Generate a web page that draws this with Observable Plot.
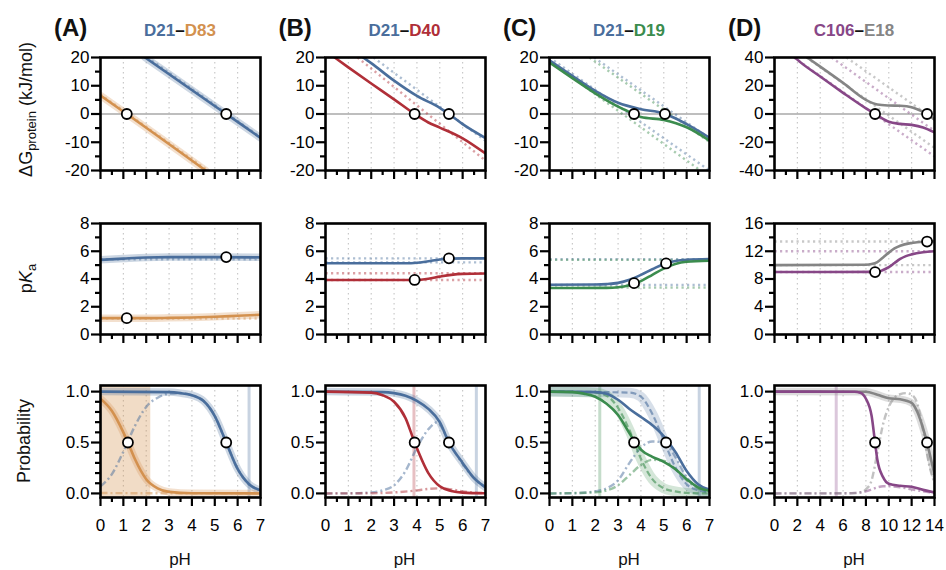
<!DOCTYPE html>
<html><head><meta charset="utf-8">
<script src="https://cdn.jsdelivr.net/npm/d3@7"></script>
<script src="https://cdn.jsdelivr.net/npm/@observablehq/plot@0.6"></script>
<style>
body{margin:0;background:#fff;}
#fig{position:relative;width:946px;height:570px;font-family:"Liberation Sans",Arial,Helvetica,sans-serif;overflow:hidden;background:#fff;}
#fig .panel{position:absolute;}
#overlay{position:absolute;left:0;top:0;z-index:5;pointer-events:none;}
</style></head><body><div id="fig"></div>
<script>
// ---------------- colours ----------------
const colD21 = "#4a6e9c", colD83 = "#d3914f", colD40 = "#b02f38", colD19 = "#3b8c4e", colC106 = "#874787", colE18 = "#858585";

// ---------------- titles ----------------
const panelLetters = ["(A)", "(B)", "(C)", "(D)"];
const pairLeft = ["D21", "D21", "D21", "C106"];
const pairRight = ["D83", "D40", "D19", "E18"];
const pairLeftColor = [colD21, colD21, colD21, colC106];
const pairRightColor = [colD83, colD40, colD19, colE18];

// ---------------- ticks ----------------
const xMajor7 = [0,1,2,3,4,5,6,7];
const xMinor7 = [0.5,1.5,2.5,3.5,4.5,5.5,6.5];
const xMajor14 = [0,2,4,6,8,10,12,14];
const xMinor14 = [1,3,5,7,9,11,13];
const dGTicks20 = [-20,-10,0,10,20], dGMinor20 = [-15,-5,5,15];
const dGTicks40 = [-40,-20,0,20,40], dGMinor40 = [-30,-10,10,30];
const pKaTicks8 = [0,2,4,6,8], pKaMinor8 = [1,3,5,7];
const pKaTicks16 = [0,4,8,12,16], pKaMinor16 = [2,6,10,14];
const probTicks = [0,0.5,1], probMinor = [0.1,0.2,0.3,0.4,0.6,0.7,0.8,0.9];

// ---------------- panel A : D21-D83 ----------------
const A_dG_D21 = [[1.95,20],[5.5,0],[7,-8.45]];
const A_dG_D83 = [[0,6.5],[1.15,0],[4.6,-20]];
const A_dG_D21_ref = [[2.05,20],[7,-8.2]];
const A_dG_D83_ref = [[0,6.9],[4.7,-20]];
const A_dG_pts = [[1.15,0],[5.5,0]];
const A_pKa_D21 = [[0,5.38],[1,5.47],[2,5.55],[3,5.58],[5,5.58],[7,5.56]];
const A_pKa_D83 = [[0,1.18],[2,1.18],[3,1.2],[4,1.23],[5,1.28],[6,1.35],[7,1.42]];
const A_pKa_D21_ref = [[0,5.42],[7,5.42]];
const A_pKa_D83_ref = [[0,1.15],[7,1.15]];
const A_pKa_pts = [[1.15,1.18],[5.5,5.58]];
const A_prob_D21 = [[0,1],[3,0.995],[3.5,0.985],[4,0.965],[4.5,0.91],[5,0.76],[5.5,0.5],[6,0.24],[6.5,0.09],[7,0.03]];
const A_prob_D83 = [[0,0.93],[0.5,0.81],[1,0.6],[1.2,0.5],[1.5,0.34],[2,0.14],[2.5,0.05],[3,0.015],[4,0.002],[7,0]];
const A_prob_mixed = [[0,0.07],[0.5,0.19],[1,0.41],[1.5,0.66],[2,0.85],[2.5,0.94],[3,0.98],[3.5,0.985],[4,0.965],[4.5,0.91],[5,0.76],[5.5,0.5],[6,0.24],[6.5,0.09],[7,0.03]];
const A_prob_both = [[0,0.004],[3,0.001],[7,0]];
const A_prob_pts = [[1.2,0.5],[5.5,0.5]];
const A_shade = [[0,2.2]];
const A_rule_D21 = [6.5];

// ---------------- panel B : D21-D40 ----------------
const B_dG_D21 = [[1.6,20.3],[2,18],[3,11.8],[4,6.4],[5,2.2],[5.4,0],[6,-3.6],[7,-8.5]];
const B_dG_D40 = [[0.4,20],[1,16.5],[2,10.8],[3,5.2],[3.9,0],[4.5,-3],[5,-4.8],[6,-8.6],[7,-14]];
const B_dG_D21_ref = [[2.1,20],[7,-9.5]];
const B_dG_D40_ref = [[1.4,20],[7,-16.5]];
const B_dG_pts = [[3.9,0],[5.4,0]];
const B_pKa_D21 = [[0,5.13],[3.5,5.13],[4,5.17],[4.5,5.28],[5,5.4],[5.5,5.47],[6,5.49],[7,5.49]];
const B_pKa_D40 = [[0,3.93],[4,3.93],[4.5,4.02],[5,4.17],[5.5,4.3],[6,4.37],[7,4.4]];
const B_pKa_D21_ref1 = [[0,5.49],[7,5.49]], B_pKa_D21_ref2 = [[0,5.2],[7,5.2]];
const B_pKa_D40_ref1 = [[0,4.41],[7,4.41]], B_pKa_D40_ref2 = [[0,3.93],[7,3.93]];
const B_pKa_pts = [[3.9,3.93],[5.4,5.49]];
const B_prob_D21 = [[0,1],[2.5,0.995],[3,0.985],[3.5,0.96],[4,0.91],[4.5,0.83],[5,0.7],[5.4,0.5],[6,0.3],[6.5,0.15],[7,0.06]];
const B_prob_D40 = [[0,1],[2,0.99],[2.5,0.965],[3,0.9],[3.5,0.74],[3.9,0.5],[4.5,0.2],[5,0.07],[5.5,0.025],[6,0.008],[7,0.001]];
const B_prob_mixed = [[0,0],[1,0.001],[2,0.01],[2.5,0.03],[3,0.08],[3.5,0.22],[4,0.45],[4.5,0.63],[4.9,0.7],[5.2,0.6],[5.5,0.47],[6,0.29],[6.5,0.15],[7,0.06]];
const B_prob_both = [[0,0],[2,0.002],[3,0.01],[4,0.03],[4.5,0.045],[5,0.05],[5.5,0.04],[6,0.02],[6.5,0.008],[7,0.003]];
const B_prob_pts = [[3.9,0.5],[5.4,0.5]];
const B_rule_D40 = [3.87], B_rule_D21 = [6.6];

// ---------------- panel C : D21-D19 ----------------
const C_dG_D21 = [[0,19],[1,13.5],[2,8.2],[3,4],[4,1.7],[5,0.2],[5.5,-1.5],[6,-3.6],[7,-8.4]];
const C_dG_D19 = [[0,18.2],[1,12.7],[2,7.3],[3,2.6],[3.7,0],[4,-1.1],[5,-2.1],[6,-4.7],[7,-9.4]];
const C_dG_D21_ref1 = [[1.95,20],[7,-8.6]], C_dG_D21_ref2 = [[0,20],[7,-20]];
const C_dG_D19_ref1 = [[1.75,20],[7,-9.9]], C_dG_D19_ref2 = [[0,18.8],[6.6,-20]];
const C_dG_pts = [[3.7,0],[5.05,0]];
const C_pKa_D21 = [[0,3.59],[2,3.6],[2.5,3.63],[3,3.72],[3.5,3.95],[4,4.3],[4.5,4.7],[5,5.08],[5.5,5.3],[6,5.39],[7,5.44]];
const C_pKa_D19 = [[0,3.35],[2.5,3.36],[3,3.4],[3.5,3.55],[4,3.85],[4.5,4.3],[5,4.75],[5.5,5.08],[6,5.24],[7,5.32]];
const C_pKa_D21_ref1 = [[0,5.42],[7,5.42]], C_pKa_D21_ref2 = [[0,3.57],[7,3.57]];
const C_pKa_D19_ref1 = [[0,5.38],[7,5.38]], C_pKa_D19_ref2 = [[0,3.38],[7,3.38]];
const C_pKa_pts = [[3.7,3.7],[5.1,5.12]];
const C_prob_D21 = [[0,1],[2,0.995],[2.5,0.98],[3,0.92],[3.5,0.83],[4,0.75],[4.5,0.67],[5,0.56],[5.1,0.53],[5.5,0.41],[6,0.22],[6.5,0.09],[7,0.035]];
const C_prob_D19 = [[0,1],[1,0.995],[1.5,0.98],[2,0.95],[2.5,0.88],[3,0.77],[3.5,0.59],[3.7,0.52],[4,0.43],[4.5,0.36],[5,0.31],[5.5,0.24],[6,0.14],[6.5,0.06],[7,0.025]];
const C_prob_D21_state = [[0,1],[3.5,0.99],[4,0.95],[4.5,0.78],[5,0.52],[5.5,0.26],[6,0.09],[6.5,0.03],[7,0.01]];
const C_prob_D19_state = [[0,1],[2,0.99],[2.5,0.96],[3,0.84],[3.5,0.62],[4,0.34],[4.5,0.14],[5,0.05],[5.5,0.02],[6,0.005],[7,0]];
const C_prob_D21_mixed = [[0,0],[1,0.002],[2,0.02],[2.5,0.05],[3,0.13],[3.5,0.3],[4,0.45],[4.5,0.51],[5,0.5],[5.5,0.36],[6,0.16],[6.5,0.06],[7,0.02]];
const C_prob_D19_mixed = [[0,0],[2,0.01],[2.5,0.03],[3,0.08],[3.5,0.18],[4,0.28],[4.5,0.33],[5,0.32],[5.5,0.24],[6,0.13],[6.5,0.05],[7,0.015]];
const C_prob_pts = [[3.7,0.5],[5.1,0.5]];
const C_rule_D19 = [2.2], C_rule_D21 = [6.55];

// ---------------- panel D : C106-E18 ----------------
const D_dG_C106 = [[1.8,40],[2,38.5],[4,26.5],[6,15],[8,4],[8.8,0],[9,-1],[10,-5.5],[11,-7],[12,-7.7],[13,-9.5],[14,-13]];
const D_dG_E18 = [[2.85,40],[4,33.5],[6,22],[8,10],[9,6.7],[10,6],[11,5.8],[12,4.8],[13,1.5],[13.35,0],[14,-4]];
const D_dG_C106_ref1 = [[1.7,40],[14,-30]], D_dG_C106_ref2 = [[5,40],[14,-12]];
const D_dG_E18_ref1 = [[2.8,40],[14,-24]], D_dG_E18_ref2 = [[6.3,40],[14,-4]];
const D_dG_pts = [[8.8,0],[13.35,0]];
const D_pKa_C106 = [[0,9],[9,9.02],[9.5,9.3],[10,9.7],[10.5,10.3],[11,10.9],[11.5,11.3],[12,11.55],[13,11.85],[14,12]];
const D_pKa_E18 = [[0,10],[8,10.05],[8.5,10.15],[9,10.45],[9.5,11.1],[10,11.8],[10.5,12.4],[11,12.8],[12,13.2],[13,13.38],[14,13.42]];
const D_pKa_C106_ref1 = [[0,12],[14,12]], D_pKa_C106_ref2 = [[0,9],[14,9]];
const D_pKa_E18_ref1 = [[0,13.4],[14,13.4]], D_pKa_E18_ref2 = [[0,10],[14,10]];
const D_pKa_pts = [[8.8,9],[13.35,13.4]];
const D_prob_C106 = [[0,1],[7,0.998],[7.5,0.99],[8,0.93],[8.5,0.76],[8.8,0.5],[9,0.33],[9.5,0.16],[10,0.095],[11,0.075],[12,0.065],[13,0.035],[14,0.01]];
const D_prob_E18 = [[0,1],[8,0.998],[9,0.97],[10,0.935],[11,0.925],[12,0.89],[12.5,0.8],[13,0.64],[13.35,0.5],[13.7,0.33],[14,0.19]];
const D_prob_E18_mixed = [[0,0],[7,0.002],[7.5,0.01],[8,0.04],[8.5,0.13],[9,0.4],[9.5,0.68],[10,0.85],[10.5,0.94],[11,0.975],[11.5,0.985],[12,0.97],[12.5,0.88],[13,0.62],[13.5,0.3],[14,0.1]];
const D_prob_C106_mixed = [[0,0],[6,0.001],[7,0.005],[8,0.02],[8.5,0.04],[9,0.06],[9.5,0.07],[10,0.07],[11,0.06],[12,0.04],[13,0.02],[14,0.005]];
const D_prob_pts = [[8.8,0.5],[13.35,0.5]];
const D_rule_C106 = [5.4];

// ---------------- layout ----------------
const frameLeft = [100, 324.5, 549, 774];
const frameW = 160;
const frameTop = [57, 223, 385];
const frameH = [113, 111, 112];
const ML = 50, MR = 8, MT = 8;
const MB = [14, 14, 42];
const FONT = "Liberation Sans, Arial, Helvetica, sans-serif";

const L = (d, c, k, band) => ({d, c, k, band});
const panels = [
  // row 0 : ΔG
  {col:0,row:0,xd:[0,7],yd:[-20,20],layers:[L(A_dG_D21_ref,colD21,"dotted"),L(A_dG_D83_ref,colD83,"dotted"),L(A_dG_D21,colD21,"solid",true),L(A_dG_D83,colD83,"solid",true)],pts:A_dG_pts},
  {col:1,row:0,xd:[0,7],yd:[-20,20],layers:[L(B_dG_D21_ref,colD21,"dotted"),L(B_dG_D40_ref,colD40,"dotted"),L(B_dG_D21,colD21,"solid"),L(B_dG_D40,colD40,"solid")],pts:B_dG_pts},
  {col:2,row:0,xd:[0,7],yd:[-20,20],layers:[L(C_dG_D21_ref1,colD21,"dotted"),L(C_dG_D21_ref2,colD21,"dotted"),L(C_dG_D19_ref1,colD19,"dotted"),L(C_dG_D19_ref2,colD19,"dotted"),L(C_dG_D21,colD21,"solid"),L(C_dG_D19,colD19,"solid")],pts:C_dG_pts},
  {col:3,row:0,xd:[0,14],yd:[-40,40],layers:[L(D_dG_C106_ref1,colC106,"dotted"),L(D_dG_C106_ref2,colC106,"dotted"),L(D_dG_E18_ref1,colE18,"dotted"),L(D_dG_E18_ref2,colE18,"dotted"),L(D_dG_E18,colE18,"solid"),L(D_dG_C106,colC106,"solid")],pts:D_dG_pts},
  // row 1 : pKa
  {col:0,row:1,xd:[0,7],yd:[0,8],layers:[L(A_pKa_D21_ref,colD21,"dotted"),L(A_pKa_D83_ref,colD83,"dotted"),L(A_pKa_D21,colD21,"solid",true),L(A_pKa_D83,colD83,"solid",true)],pts:A_pKa_pts},
  {col:1,row:1,xd:[0,7],yd:[0,8],layers:[L(B_pKa_D21_ref1,colD21,"dotted"),L(B_pKa_D21_ref2,colD21,"dotted"),L(B_pKa_D40_ref1,colD40,"dotted"),L(B_pKa_D40_ref2,colD40,"dotted"),L(B_pKa_D21,colD21,"solid"),L(B_pKa_D40,colD40,"solid")],pts:B_pKa_pts},
  {col:2,row:1,xd:[0,7],yd:[0,8],layers:[L(C_pKa_D21_ref1,colD21,"dotted"),L(C_pKa_D21_ref2,colD21,"dotted"),L(C_pKa_D19_ref1,colD19,"dotted"),L(C_pKa_D19_ref2,colD19,"dotted"),L(C_pKa_D21,colD21,"solid"),L(C_pKa_D19,colD19,"solid")],pts:C_pKa_pts},
  {col:3,row:1,xd:[0,14],yd:[0,16],layers:[L(D_pKa_C106_ref1,colC106,"dotted"),L(D_pKa_C106_ref2,colC106,"dotted"),L(D_pKa_E18_ref1,colE18,"dotted"),L(D_pKa_E18_ref2,colE18,"dotted"),L(D_pKa_E18,colE18,"solid"),L(D_pKa_C106,colC106,"solid")],pts:D_pKa_pts},
  // row 2 : probability
  {col:0,row:2,xd:[0,7],yd:[-0.04,1.06],shade:A_shade,shadeColor:colD83,rules:[[A_rule_D21,colD21]],
   layers:[L(A_prob_both,colD83,"dashdot"),L(A_prob_mixed,colD21,"dashdot"),L(A_prob_D21,colD21,"solid",true),L(A_prob_D83,colD83,"solid",true)],pts:A_prob_pts},
  {col:1,row:2,xd:[0,7],yd:[-0.04,1.06],rules:[[B_rule_D40,colD40],[B_rule_D21,colD21]],
   layers:[L(B_prob_mixed,colD21,"dashdot"),L(B_prob_both,colD40,"dashdot"),L(B_prob_D21,colD21,"solid",true),L(B_prob_D40,colD40,"solid")],pts:B_prob_pts},
  {col:2,row:2,xd:[0,7],yd:[-0.04,1.06],rules:[[C_rule_D19,colD19],[C_rule_D21,colD21]],
   layers:[L(C_prob_D21_mixed,colD21,"dashdot"),L(C_prob_D19_mixed,colD19,"dashdot"),L(C_prob_D21_state,colD21,"dashed",true),L(C_prob_D19_state,colD19,"dashed",true),L(C_prob_D21,colD21,"solid"),L(C_prob_D19,colD19,"solid")],pts:C_prob_pts},
  {col:3,row:2,xd:[0,14],yd:[-0.04,1.06],rules:[[D_rule_C106,colC106]],
   layers:[L(D_prob_C106_mixed,colC106,"dashdot"),L(D_prob_E18_mixed,colE18,"dashdot"),L(D_prob_E18,colE18,"solid",true),L(D_prob_C106,colC106,"solid")],pts:D_prob_pts}
];

const fig = document.getElementById("fig");
const xy = {x: d => d[0], y: d => d[1]};

function build(p) {
  const wide = p.col === 3;
  const xMaj = wide ? xMajor14 : xMajor7, xMin = wide ? xMinor14 : xMinor7;
  let yMaj, yMin, yFmt;
  if (p.row === 0) { yMaj = wide ? dGTicks40 : dGTicks20; yMin = wide ? dGMinor40 : dGMinor20; yFmt = d => String(d); }
  else if (p.row === 1) { yMaj = wide ? pKaTicks16 : pKaTicks8; yMin = wide ? pKaMinor16 : pKaMinor8; yFmt = d => String(d); }
  else { yMaj = probTicks; yMin = probMinor; yFmt = d3.format(".1f"); }
  const marks = [];
  marks.push(Plot.gridX(xMaj.filter(v => v > p.xd[0] && v < p.xd[1]), {stroke: "#b5b5b5", strokeOpacity: 0.8, strokeDasharray: "1.5,3.5", strokeWidth: 1.1}));
  if (p.row === 0) marks.push(Plot.ruleY([0], {stroke: "#a8a8a8", strokeWidth: 1.6}));
  if (p.shade) marks.push(Plot.rect(p.shade, {x1: d => d[0], x2: d => d[1], fill: p.shadeColor, fillOpacity: 0.32}));
  (p.rules || []).forEach(([r, c]) => marks.push(Plot.ruleX(r, {stroke: c, strokeWidth: 3, strokeOpacity: 0.3})));
  const base = {...xy, curve: "monotone-x", clip: true};
  // bands first
  p.layers.filter(l => l.band).forEach(l => marks.push(Plot.line(l.d, {...base, stroke: l.c, strokeWidth: l.k === "dashed" ? 10 : 7.5, strokeOpacity: l.k === "dashed" ? 0.22 : 0.28})));
  const order = ["dotted", "dashdot", "dashed", "solid"];
  order.forEach(k => p.layers.filter(l => l.k === k).forEach(l => {
    if (k === "dotted") marks.push(Plot.line(l.d, {...base, stroke: l.c, strokeWidth: 2.4, strokeDasharray: "2.2,3.3", strokeLinecap: "butt", strokeOpacity: 0.45}));
    else if (k === "dashdot") marks.push(Plot.line(l.d, {...base, stroke: l.c, strokeWidth: 2.4, strokeDasharray: "7,3,2,3", strokeLinecap: "butt", strokeOpacity: 0.5}));
    else if (k === "dashed") marks.push(Plot.line(l.d, {...base, stroke: l.c, strokeWidth: 2.2, strokeDasharray: "6,3", strokeLinecap: "butt", strokeOpacity: 0.6}));
    else marks.push(Plot.line(l.d, {...base, stroke: l.c, strokeWidth: 2.6}));
  }));
  marks.push(Plot.dot(p.pts, {...xy, r: 5, fill: "white", stroke: "black", strokeWidth: 1.8}));
  marks.push(Plot.frame({stroke: "black", strokeWidth: 2.6}));
  marks.push(Plot.axisY(yMaj, {tickSize: 9, tickPadding: 2, strokeWidth: 2.2, fontSize: 17, tickFormat: yFmt, label: null}));
  marks.push(Plot.axisY(yMin, {tickSize: 5, strokeWidth: 2.2, tickFormat: () => "", label: null}));
  marks.push(Plot.axisX(xMaj, {tickSize: 9, tickPadding: 12, strokeWidth: 2.2, fontSize: 17, tickFormat: p.row === 2 ? (d => String(d)) : (() => ""), label: null}));
  marks.push(Plot.axisX(xMin, {tickSize: 5, strokeWidth: 2.2, tickFormat: () => "", label: null}));
  const chart = Plot.plot({
    width: ML + frameW + MR,
    height: MT + frameH[p.row] + MB[p.row],
    marginLeft: ML, marginRight: MR, marginTop: MT, marginBottom: MB[p.row],
    x: {domain: p.xd, label: null},
    y: {domain: p.yd, label: null},
    style: {fontFamily: FONT, fontSize: "17px", color: "black", background: "transparent", overflow: "visible"},
    marks
  });
  chart.classList.add("panel");
  chart.style.left = (frameLeft[p.col] - ML) + "px";
  chart.style.top = (frameTop[p.row] - MT) + "px";
  fig.appendChild(chart);
}
panels.forEach(build);

// ---------------- text overlay ----------------
const svg = d3.create("svg").attr("id", "overlay").attr("width", 946).attr("height", 570)
  .attr("font-family", FONT);
for (let i = 0; i < 4; i++) {
  svg.append("text").attr("x", frameLeft[i] - 46).attr("y", 36).attr("font-size", 24).attr("font-weight", "bold").attr("fill", "#111").text(panelLetters[i]);
  const t = svg.append("text").attr("x", frameLeft[i] + frameW / 2).attr("y", 36).attr("text-anchor", "middle").attr("font-size", 17).attr("font-weight", "bold");
  t.append("tspan").attr("fill", pairLeftColor[i]).text(pairLeft[i]);
  t.append("tspan").attr("fill", "#111").text("–");
  t.append("tspan").attr("fill", pairRightColor[i]).text(pairRight[i]);
  svg.append("text").attr("x", frameLeft[i] + frameW / 2).attr("y", 565).attr("text-anchor", "middle").attr("font-size", 17).attr("fill", "#111").text("pH");
}
const yl1 = svg.append("text").attr("transform", `translate(32,${frameTop[0] + frameH[0] / 2 - 4}) rotate(-90)`).attr("text-anchor", "middle").attr("font-size", 18).attr("fill", "#111");
yl1.append("tspan").text("ΔG");
yl1.append("tspan").attr("font-size", 13).attr("dy", 4).text("protein");
yl1.append("tspan").attr("dy", -4).text(" (kJ/mol)");
const yl2 = svg.append("text").attr("transform", `translate(32,${frameTop[1] + frameH[1] / 2}) rotate(-90)`).attr("text-anchor", "middle").attr("font-size", 18).attr("fill", "#111");
yl2.append("tspan").text("p");
yl2.append("tspan").attr("font-style", "italic").text("K");
yl2.append("tspan").attr("font-size", 13).attr("dy", 4).text("a");
svg.append("text").attr("transform", `translate(30,${frameTop[2] + frameH[2] / 2}) rotate(-90)`).attr("text-anchor", "middle").attr("font-size", 18).attr("fill", "#111").text("Probability");
fig.appendChild(svg.node());
</script></body></html>
